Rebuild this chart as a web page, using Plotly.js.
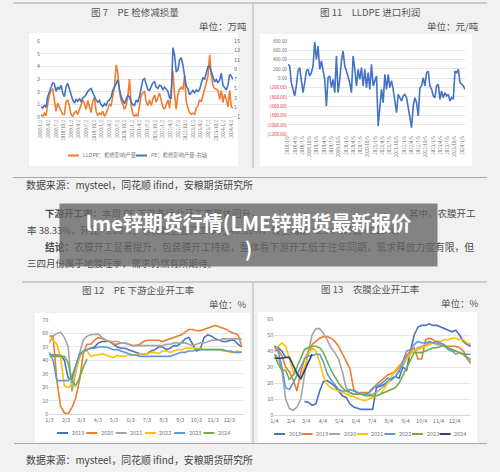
<!DOCTYPE html>
<html><head><meta charset="utf-8">
<script src="https://cdn.plot.ly/plotly-3.0.1.min.js"></script>
<style>html,body{margin:0;padding:0;background:#f1f1f1}#c{width:500px;height:472px}</style>
</head><body><div id="c"></div>
<script>
// ---------------- 图7 PE 检修减损量 ----------------
const c7Start = '2018-01-02';
const c7StepDays = 20;
const c7Lldpe = [0.2,0.05,0.3,0.1,1.0,1.75,2.1,2.2,1.35,0.45,
  1.1,0.8,0.5,0.2,0.2,1.2,1.35,0.9,0.2,0.05,
  0.35,0.45,0.2,0.6,0.9,1.35,1.05,0.6,1.3,0.7,
  0.35,1.2,1.55,0.45,0.1,0.3,0.2,0.45,0.05,0.25,
  0.6,1.0,0.9,1.5,2.35,4.1,3.5,2.0,1.3,1.0,
  0.6,0.9,1.6,3.0,0.9,0.25,0.05,0.2,0.05,0.85,
  1.7,1.9,2.0,1.2,0.9,1.35,0.9,1.4,1.75,1.15,
  1.55,1.9,1.3,0.8,0.6,1.0,1.35,0.7,2.0,3.65,
  1.75,0.6,1.8,2.2,2.35,2.15,3.25,1.2,0.7,0.35,
  0.2,0.3,0.2,0.7,0.9,1.35,1.2,1.75,2.35,2.65,
  3.2,4.9,3.25,2.5,2.25,2.2,2.1,1.4,2.1,1.15,
  1.8,1.35,0.8,2.1,0.8,0.7];
const c7Pe = [1.2,0.9,1.4,1.1,3.3,4.4,5.5,6.2,6.0,4.4,
  5.3,4.8,5.7,4.0,3.3,5.3,6.1,5.0,3.5,2.6,
  1.9,2.8,2.3,2.8,2.3,3.0,3.3,3.7,4.4,4.8,
  5.0,4.1,3.2,2.6,2.1,2.5,1.6,1.2,1.8,1.4,
  2.3,2.6,3.2,4.6,5.3,6.2,6.8,4.8,3.3,2.5,
  1.8,2.8,3.5,3.2,2.1,1.6,1.4,2.6,2.1,3.3,
  5.5,6.8,7.1,5.7,4.8,4.6,5.3,6.2,6.4,5.3,
  5.0,5.7,5.5,4.7,5.3,4.8,4.4,3.0,3.0,13.6,
  12.0,8.5,8.9,11.0,11.5,9.9,7.5,5.5,5.0,3.7,
  4.1,4.6,4.1,4.7,4.4,4.8,6.1,7.3,6.9,8.0,
  9.6,9.7,8.5,7.1,6.4,6.9,6.2,6.8,8.2,5.7,
  5.3,4.7,5.7,8.0,7.6,6.9];
const c7Names = ['LLDPE：检修影响产量', 'PE：检修影响产量-右轴'];
const c7Colors = ['#ed7d31', '#4472c4'];
const c7RightTicks = [-1,1,3,5,7,9,11,13,15];

// ---------------- 图11 LLDPE 进口利润 ----------------
const c11Start = '2018-01-05';
const c11StepDays = 21;
const c11Profit = [300,264,-93,-271,-378,-164,157,229,-21,-307,
  -93,157,193,50,121,264,780,407,693,193,
  371,193,-21,-593,14,50,-200,-21,-307,479,
  -307,-21,371,586,264,157,50,-93,-307,479,
  193,-164,193,-21,229,-164,193,-200,121,-236,
  300,-164,-50,50,-1021,-700,-236,-521,86,-236,
  86,-200,-50,-236,-486,-736,-343,-414,-486,-378,
  -343,-414,-628,-843,-1057,-593,-414,-521,-807,-200,
  -164,14,-164,121,157,-164,-236,-378,-414,-164,
  -129,-450,-271,-414,-307,-378,-343,-486,-414,-450,
  157,121,193,-93,-129,-164,-236];
const c11TickVals = [800,600,400,200,0,-200,-400,-600,-800,-1000,-1200];
const c11TickText = ['800.00','600.00','400.00','200.00','0.00','(200.00)','(400.00)','(600.00)','(800.00)','(1000.00)','(1200.00)'];

// ---------------- 图12 PE 下游企业开工率 ----------------
const c12Days = [3,10,17,24,31,38,45,52,59,66,73,80,87,94,101,108,115,122,129,136,143,150,157,164,171,178,185,192,199,206,213,220,227,234,241,248,255,262,269,276,283,290,297,304,311,318,325,332,339,346,353,360];
const c12Years = ['2019','2020','2021','2022','2023','2024'];
const c12Colors = ['#4472c4','#ed7d31','#a5a5a5','#ffc000','#5b9bd5','#70ad47'];
const c12Y2019 = [44,44,44,44,40,27,26,35,45,46,48,49,50,53,54,54,54,52,50,49,49,48,47,46,45,45,45,47,48,50,50,48,49,51,51,53,56,57,52,47,48,57,59,58,56,55,54,54,55,55,52,50];
const c12Y2020 = [58,58,25,6,1,0.5,5,12,25,45,52,52,55,57,56,55,54,52,52,53,53,52,51,51,52,54,55,55,55,55,54,55,56,57,58,59,61,63,63,62,62,63,64,65,66,65,64,63,61,60,59,51];
const c12Y2021 = [53,58,60,61,57,50,17,30,45,55,58,59,59.5,59.5,57,55,54,54,54,53,53,52,51,51,51,51,51,51,51,51,51,52,52,53,53,53,53,52,51,52,53,53,54,55,55,55,56,56,56,56,56,56];
const c12Y2022 = [56,55,52,42,21,20,22,32,42,47,47,43,44,44,45,44,43,42,44,43,43,44,44,44,45,45,45,46,46,45,47,47,46,47,48,48,49,49,49,49,49,48,48,48,48,48,47,47,46,46,47,46];
const c12Y2023 = [46,40,25,25,25,25,28,36,44,47,48,49,49,50,50,50,49,48,48,47,46,45,44,44,43,43,43,43,43,43,43,43,43,44,45,46,46,47,47,48,48,48,48,48,48,48,48,47,47,46,46,46];
const c12Y2024 = [43,43,43,43,43,38,25,21,27,35,41];
const c12TickDays = [3,34,62,93,123,154,184,215,246,276,307,337];
const c12TickText = ['1/3','2/3','3/3','4/3','5/3','6/3','7/3','8/3','9/3','10/3','11/3','12/3'];

// ---------------- 图13 农膜企业开工率 ----------------
const c13Days = [4,11,18,25,32,39,46,53,60,67,74,81,88,95,102,109,116,123,130,137,144,151,158,165,172,179,186,193,200,207,214,221,228,235,242,249,256,263,270,277,284,291,298,305,312,319,326,333,340,347,354,361,368];
const c13Years = ['2018','2019','2020','2021','2022','2023','2024'];
const c13Colors = ['#4472c4','#ed7d31','#a5a5a5','#ffc000','#5b9bd5','#70ad47','#264478'];
const c13Y2018 = [43,42,40,36,null,null,null,null,8.5,8,6,7,15,21,21.5,20,18,15,12,11,7,5,4,3.5,3.5,3.5,3.5,17,18,19,21,23,24,23,30,28,40,50,55,56,56,57,56,56,55,54,53,52,53,50,46,44,43];
const c13Y2019 = [40,41,37,30,27,22,15,27,35,40,44,46,48,49,49,48,46,43,38,33,29,16,14,14,14,14,16,19,21,23,25,26,27,30,33,37,40,42,35,35,47,48,47,45,44,43,43,43,43,42,40,36,33];
const c13Y2020 = [38,36,28,10,4,3,5,10,25,40,50,54,54,51,47,42,39,35,27,17,14,13,14,13,13,13,13,14,16,18,20,22,24,28,31,35,39,40,42,43,44,45,45,44,44,43,41,40,38,39,38,35,32];
const c13Y2021 = [41,43,45,43,35,27,25,22,30,38,42,40,33,24,19,17,16,15,14,13,12,11,10,9.5,9,10,11,12,13,16,20,24,28,31,33,35,38,40,41,42,43,44,45,46,46,47,47,48,48,47,47,45,44];
const c13Y2022 = [43,40,30,17,16,20,25,30,35,37,37,38,38,33,26,22,19,16,15,15,16,15,14,13,13,14,17,18,19,21,23,22,24,27,33,40,41,44,46,45,45,46,45,46,45,44,41,40,40,39,38,38,38];
const c13Y2023 = [38,32,28,28,22,25,30,36,41,42,43,43,42,39,33,28,24,20,17,15,14,13,13,13,12,12,12,12,13,14,15,16,17,20,25,30,35,39,39,39,40,41,42,42,43,43,42,41,40,39,38,36,35];
const c13Y2024 = [35.5,35.5,35.5,36,36,31,26,22.5,28,33,38];
const c13TickDays = [4,35,63,94,124,155,185,216,247,277,308,338];
const c13TickText = ['1/4','2/4','3/4','4/4','5/4','6/4','7/4','8/4','9/4','10/4','11/4','12/4'];

// ---------------- helpers ----------------
const W = 500, H = 472;
const px = x => x / W;
const py = y => 1 - y / H;
function dateSeq(start, step, n) {
  const t0 = Date.parse(start + 'T00:00:00Z'), out = [];
  for (let i = 0; i < n; i++) out.push(new Date(t0 + i * step * 86400000).toISOString().slice(0, 10));
  return out;
}
const FONT = 'Noto Sans CJK SC, Noto Sans, sans-serif';
const TICKC = '#6f6f6f';
const GRID = '#dedede';

const traces = [];
const c7Dates = dateSeq(c7Start, c7StepDays, c7Pe.length);
traces.push({x: c7Dates, y: c7Lldpe, xaxis: 'x', yaxis: 'y', mode: 'lines', line: {color: c7Colors[0], width: 1.6}, name: c7Names[0]});
traces.push({x: c7Dates, y: c7Pe, xaxis: 'x', yaxis: 'y2', mode: 'lines', line: {color: c7Colors[1], width: 1.6}, name: c7Names[1]});
traces.push({x: dateSeq(c11Start, c11StepDays, c11Profit.length), y: c11Profit, xaxis: 'x2', yaxis: 'y3', mode: 'lines', line: {color: '#4472c4', width: 1.6}});
[c12Y2019, c12Y2020, c12Y2021, c12Y2022, c12Y2023, c12Y2024].forEach((s, i) => {
  traces.push({x: c12Days.slice(0, s.length), y: s, xaxis: 'x3', yaxis: 'y4', mode: 'lines', line: {color: c12Colors[i], width: 1.6}, name: c12Years[i]});
});
[c13Y2018, c13Y2019, c13Y2020, c13Y2021, c13Y2022, c13Y2023, c13Y2024].forEach((s, i) => {
  traces.push({x: c13Days.slice(0, s.length), y: s, xaxis: 'x4', yaxis: 'y5', mode: 'lines', connectgaps: false, line: {color: c13Colors[i], width: 1.6}, name: c13Years[i]});
});

const shapes = [];
const annotations = [];
function rect(x0, y0, x1, y1, fill) {
  shapes.push({type: 'rect', xref: 'paper', yref: 'paper', x0: px(x0), x1: px(x1), y0: py(y1), y1: py(y0), fillcolor: fill, line: {width: 0}, layer: 'below'});
}
function hline(x0, x1, y, color, w) {
  shapes.push({type: 'line', xref: 'paper', yref: 'paper', x0: px(x0), x1: px(x1), y0: py(y), y1: py(y), line: {color: color, width: w}});
}
function vline(x, y0, y1, color, w) {
  shapes.push({type: 'line', xref: 'paper', yref: 'paper', x0: px(x), x1: px(x), y0: py(y0), y1: py(y1), line: {color: color, width: w}});
}
function text(t, x, y, anchor, size, color) {
  annotations.push({text: t, x: px(x), y: py(y), xref: 'paper', yref: 'paper', xanchor: anchor, yanchor: 'middle', showarrow: false, font: {family: FONT, size: size, color: color}});
}

rect(29, 33, 238, 166, '#ffffff');
rect(260, 34, 472, 166, '#ffffff');
rect(35, 313, 250, 442, '#ffffff');
rect(258, 312, 477, 443, '#ffffff');
hline(13, 487, 3, '#a8a8a8', 1);
hline(13, 487, 177.5, '#a8a8a8', 1);
vline(253, 3, 168, '#b5b5b5', 1);
hline(22, 487, 282, '#a8a8a8', 1);
hline(14, 487, 443.5, '#a8a8a8', 1);
vline(253, 282, 443, '#b5b5b5', 1);

text('图 7　PE 检修减损量', 134.5, 12, 'center', 9.5, '#555');
text('单位：万吨', 249, 26, 'right', 9.5, '#555');
text('图 11　LLDPE 进口利润', 370, 12, 'center', 9.5, '#555');
text('单位：元/吨', 481, 26, 'right', 9.5, '#555');
text('数据来源：mysteel，同花顺 ifind，安粮期货研究所', 24, 185, 'left', 9.9, '#444');
text('图 12　PE 下游企业开工率', 138, 290, 'center', 9.5, '#555');
text('单位：%', 249, 304, 'right', 9.5, '#555');
text('图 13　农膜企业开工率', 370, 289, 'center', 9.5, '#555');
text('单位：%', 481, 303, 'right', 9.5, '#555');
text('数据来源：mysteel，同花顺 ifind，安粮期货研究所', 24, 460, 'left', 9.9, '#444');

text('<b>下游开工率：</b>本周 PE 下游各行业开工率整体回升，', 43, 213, 'left', 9.5, '#4a4a4a');
text('其中，农膜开工', 478, 213, 'right', 9.5, '#4a4a4a');
text('率 38.33%，环比+3.08%；包装膜企业开工率为 48.33%，较上周期 42.04%环比+6.29%。', 25, 230, 'left', 9.5, '#4a4a4a');
text('<b>结论：</b>农膜开工显著提升，包装膜开工持稳，整体看下游开工低于往年同期，需求释放力度有限，但', 43, 247, 'left', 9.75, '#4a4a4a');
text('三四月份属于地膜旺季，需求仍然有所期待。', 25, 263, 'left', 9.5, '#4a4a4a');

const c7LegX = [68, 136];
c7Names.forEach((n, i) => {
  hline(c7LegX[i], c7LegX[i] + 11, 155.5, c7Colors[i], 2);
  text(n, c7LegX[i] + 12.5, 155.5, 'left', 5.3, '#777');
});
c12Years.forEach((n, i) => {
  const x0 = 57 + 29.3 * i;
  hline(x0, x0 + 11, 433, c12Colors[i], 2);
  text(n, x0 + 12.5, 433, 'left', 5.5, '#777');
});
c13Years.forEach((n, i) => {
  const x0 = 274 + 27.6 * i;
  hline(x0, x0 + 11, 434, c13Colors[i], 2);
  text(n, x0 + 12.5, 434, 'left', 5.5, '#777');
});

annotations.push({
  text: '<b>lme锌期货行情(LME锌期货最新报价<br>)</b>',
  x: px(248.5), y: py(235), xref: 'paper', yref: 'paper', xanchor: 'center', yanchor: 'middle',
  showarrow: false, width: 377, height: 62, borderpad: 0, borderwidth: 1, bordercolor: 'rgba(0,0,0,0)',
  bgcolor: 'rgba(100,100,100,0.78)', align: 'center', valign: 'middle',
  font: {family: FONT, size: 20, color: '#ffffff'}
});

const tf = s => ({family: FONT, size: s, color: TICKC});
const layout = {
  width: W, height: H,
  margin: {l: 0, r: 0, t: 0, b: 0},
  paper_bgcolor: '#f1f1f1', plot_bgcolor: 'rgba(0,0,0,0)',
  font: {family: FONT},
  showlegend: false,
  xaxis: {domain: [px(41), px(233)], anchor: 'y', type: 'date', tick0: c7Start, dtick: 'M3', tickformat: '%Y/%-m/%-d',
    tickangle: -90, tickfont: tf(4.5), showgrid: false, showline: true, linecolor: '#d9d9d9', ticks: '', zeroline: false},
  yaxis: {domain: [py(117), py(41)], anchor: 'x', range: [0, 6], dtick: 1, gridcolor: GRID, gridwidth: 0.8, zeroline: false, tickfont: tf(5.5), ticks: ''},
  yaxis2: {overlaying: 'y', side: 'right', anchor: 'x', range: [-1, 15], tickvals: c7RightTicks, showgrid: false, zeroline: false, tickfont: tf(5.5), ticks: ''},
  xaxis2: {domain: [px(288), px(465)], anchor: 'y3', type: 'date', tick0: c11Start, dtick: 'M3', tickformat: '%Y/%-m/%-d',
    tickangle: -90, tickfont: tf(4.5), showgrid: false, showline: false, ticks: '', zeroline: false},
  yaxis3: {domain: [py(134.3), py(41)], anchor: 'x2', range: [-1200, 800],
    tickvals: c11TickVals,
    ticktext: c11TickText.map((t, i) => c11TickVals[i] < 0 ? '<span style="color:#e0393e">' + t + '</span>' : t),
    gridcolor: GRID, gridwidth: 0.8, zeroline: false, tickfont: tf(4.6), ticks: ''},
  xaxis3: {domain: [px(49.3), px(244.4)], anchor: 'y4', range: [3, 365], tickvals: c12TickDays, ticktext: c12TickText,
    tickfont: tf(5.5), showgrid: false, showline: true, linecolor: '#d9d9d9', ticks: '', zeroline: false},
  yaxis4: {domain: [py(414.3), py(320)], anchor: 'x3', range: [0, 70], dtick: 10, gridcolor: GRID, gridwidth: 0.8, zeroline: false, tickfont: tf(5.5), ticks: ''},
  xaxis4: {domain: [px(274.3), px(470.9)], anchor: 'y5', range: [4, 368], tickvals: c13TickDays, ticktext: c13TickText,
    tickfont: tf(5.5), showgrid: false, showline: true, linecolor: '#d9d9d9', ticks: '', zeroline: false},
  yaxis5: {domain: [py(415), py(319)], anchor: 'x4', range: [0, 60], dtick: 10, gridcolor: GRID, gridwidth: 0.8, zeroline: false, tickfont: tf(5.5), ticks: ''},
  shapes: shapes,
  annotations: annotations
};
Plotly.newPlot('c', traces, layout, {staticPlot: true, displayModeBar: false});
</script>
</body></html>
